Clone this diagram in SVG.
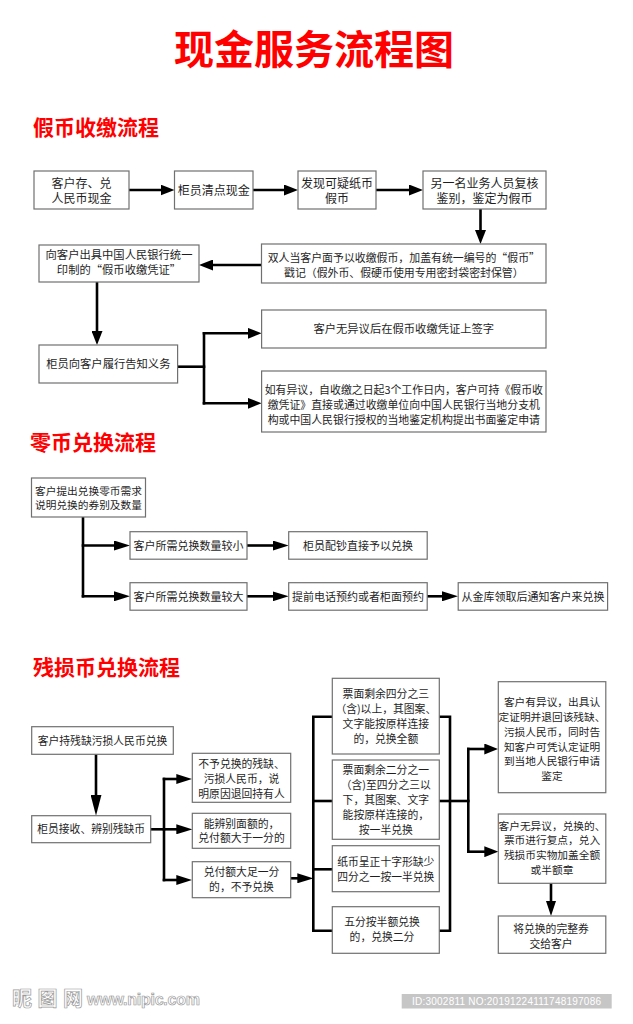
<svg xmlns="http://www.w3.org/2000/svg" width="633" height="1024" viewBox="0 0 633 1024">
<style>
.bx{fill:#fff;stroke:#707070;stroke-width:1.2}
.t{font-family:"Noto Sans CJK SC","Liberation Sans",sans-serif;fill:#1e1e1e;text-anchor:middle}
.s1{font-size:12px}.s2{font-size:11.3px}.s3{font-size:10.9px}.s4{font-size:10.8px}
.h{font-family:"Noto Sans CJK SC",sans-serif;font-weight:bold;fill:#ff0000}
.c{fill:none;stroke:#000;stroke-width:2.6;stroke-linecap:square}
</style>
<defs>
<marker id="m1" markerUnits="userSpaceOnUse" markerWidth="14" markerHeight="11" refX="1" refY="5.5" orient="auto"><path d="M0,0 L14,5.5 L0,11 z" fill="#000"/></marker>
<marker id="m2" markerUnits="userSpaceOnUse" markerWidth="16" markerHeight="10" refX="1" refY="5" orient="auto"><path d="M0,0 L16,5 L0,10 z" fill="#000"/></marker>
<marker id="m3" markerUnits="userSpaceOnUse" markerWidth="21" markerHeight="11" refX="1" refY="5.5" orient="auto"><path d="M0,0 L21,5.5 L0,11 z" fill="#000"/></marker>
<marker id="m4" markerUnits="userSpaceOnUse" markerWidth="15" markerHeight="10" refX="1" refY="5" orient="auto"><path d="M0,0 L15,5 L0,10 z" fill="#000"/></marker>
</defs>
<rect width="633" height="1024" fill="#fff"/>

<g id="titles">
<text class="h" x="314" y="64" font-size="40" text-anchor="middle">现金服务流程图</text>
<text class="h" x="33" y="135" font-size="21">假币收缴流程</text>
<text class="h" x="30" y="450" font-size="21">零币兑换流程</text>
<text class="h" x="33" y="675" font-size="21">残损币兑换流程</text>
</g>

<g id="connectors">
<!-- section 1 -->
<path class="c" d="M129,190 H161.5" marker-end="url(#m1)"/>
<path class="c" d="M253,190 H285" marker-end="url(#m1)"/>
<path class="c" d="M376,190 H410" marker-end="url(#m1)"/>
<path class="c" d="M480.5,209 V231" marker-end="url(#m1)"/>
<path class="c" d="M261.5,265 H212" marker-end="url(#m1)"/>
<path class="c" d="M97,282 V332" marker-end="url(#m1)"/>
<path class="c" d="M177.6,366.7 H204"/>
<path class="c" d="M204,333.3 V403.3"/>
<path class="c" d="M204,333.3 H248.6" marker-end="url(#m1)"/>
<path class="c" d="M204,403.3 H248.6" marker-end="url(#m1)"/>
<!-- section 2 -->
<path class="c" d="M83,517 V596.3"/>
<path class="c" d="M83,545.5 H115" marker-end="url(#m2)"/>
<path class="c" d="M83,596.3 H115" marker-end="url(#m2)"/>
<path class="c" d="M247,545.5 H273.7" marker-end="url(#m2)"/>
<path class="c" d="M247,596.3 H273.7" marker-end="url(#m2)"/>
<path class="c" d="M427.2,596.3 H443" marker-end="url(#m2)"/>
<!-- section 3 -->
<path class="c" d="M96,754.3 V795.7" marker-end="url(#m3)"/>
<path class="c" d="M150.7,829.3 H164"/>
<path class="c" d="M164,779 V880"/>
<path class="c" d="M164,779 H177.3" marker-end="url(#m2)"/>
<path class="c" d="M164,829.3 H177.3" marker-end="url(#m2)"/>
<path class="c" d="M164,880 H177.3" marker-end="url(#m2)"/>
<path class="c" d="M290.7,878.3 H298.3" marker-end="url(#m2)"/>
<path class="c" d="M332.3,716.7 H313.3 V930.7 H332.3"/>
<path class="c" d="M313.3,801 H332.3"/>
<path class="c" d="M313.3,869.3 H332.3"/>
<path class="c" d="M439.3,716.7 H450 V930.7 H439.3"/>
<path class="c" d="M439.3,801 H468.3"/>
<path class="c" d="M468.3,749 V851.7"/>
<path class="c" d="M468.3,749 H485.3" marker-end="url(#m1)"/>
<path class="c" d="M468.3,851.7 H485.3" marker-end="url(#m1)"/>
<path class="c" d="M551,883.3 V902" marker-end="url(#m4)"/>
</g>

<g id="n-a"><rect class="bx" x="34" y="171" width="95" height="38"/><text class="t s1" x="81.5" y="188">客户存、兑</text><text class="t s1" x="81.5" y="203">人民币现金</text></g>
<g id="n-b"><rect class="bx" x="174.5" y="171" width="78.5" height="38"/><text class="t s1" x="213.7" y="194.6">柜员清点现金</text></g>
<g id="n-c"><rect class="bx" x="298" y="171" width="78" height="38"/><text class="t s1" x="337" y="187.8">发现可疑纸币</text><text class="t s1" x="337" y="202.8">假币</text></g>
<g id="n-d"><rect class="bx" x="423" y="171" width="123" height="38"/><text class="t s1" x="484.5" y="187.8">另一名业务人员复核</text><text class="t s1" x="484.5" y="202.8">鉴别，鉴定为假币</text></g>
<g id="n-e"><rect class="bx" x="261.5" y="244" width="284.5" height="39"/><text class="t s3" x="403.8" y="261.5">双人当客户面予以收缴假币，加盖有统一编号的“假币”</text><text class="t s3" x="403.8" y="276.5">戳记（假外币、假硬币使用专用密封袋密封保管）</text></g>
<g id="n-f"><rect class="bx" x="39" y="245" width="160" height="37"/><text class="t s2" x="119" y="258.6">向客户出具中国人民银行统一</text><text class="t s2" x="119" y="273.6">印制的“假币收缴凭证”</text></g>
<g id="n-g"><rect class="bx" x="39" y="345" width="138.6" height="38"/><text class="t s2" x="108.3" y="368.4">柜员向客户履行告知义务</text></g>
<g id="n-h"><rect class="bx" x="261.6" y="310" width="284.4" height="38"/><text class="t s2" x="403.8" y="333.4">客户无异议后在假币收缴凭证上签字</text></g>
<g id="n-i"><rect class="bx" x="261.6" y="371" width="284.4" height="61"/><text class="t s3" x="403.8" y="394.2">如有异议，自收缴之日起3个工作日内，客户可持《假币收</text><text class="t s3" x="403.8" y="409.2">缴凭证》直接或通过收缴单位向中国人民银行当地分支机</text><text class="t s3" x="403.8" y="424.2">构或中国人民银行授权的当地鉴定机构提出书面鉴定申请</text></g>

<g id="n-j"><rect class="bx" x="31.5" y="478" width="114" height="39"/><text class="t" font-size="10.7" x="88.5" y="494.6">客户提出兑换零币需求</text><text class="t" font-size="10.7" x="88.5" y="508.6">说明兑换的券别及数量</text></g>
<g id="n-k"><rect class="bx" x="130" y="531.7" width="117" height="27.5"/><text class="t" font-size="11" x="188.5" y="549.6">客户所需兑换数量较小</text></g>
<g id="n-l"><rect class="bx" x="288.7" y="531.7" width="138.5" height="27.5"/><text class="t" font-size="11" x="358" y="549.6">柜员配钞直接予以兑换</text></g>
<g id="n-m"><rect class="bx" x="130" y="582.7" width="117" height="27.5"/><text class="t" font-size="11" x="188.5" y="600.5">客户所需兑换数量较大</text></g>
<g id="n-n"><rect class="bx" x="288.7" y="582.7" width="138.5" height="27.5"/><text class="t" font-size="11" x="358" y="600.5">提前电话预约或者柜面预约</text></g>
<g id="n-o"><rect class="bx" x="458.2" y="582.7" width="149.4" height="27.5"/><text class="t" font-size="11" x="533" y="600.5">从金库领取后通知客户来兑换</text></g>

<g id="n-p"><rect class="bx" x="31.7" y="726.7" width="141.6" height="27.6"/><text class="t s4" x="102.5" y="744.7">客户持残缺污损人民币兑换</text></g>
<g id="n-q"><rect class="bx" x="31.7" y="815.7" width="119" height="27"/><text class="t s4" x="91.2" y="833.4">柜员接收、辨别残缺币</text></g>
<g id="n-r"><rect class="bx" x="192.3" y="753.3" width="98.4" height="49"/><text class="t s4" x="241.5" y="767.5">不予兑换的残缺、</text><text class="t s4" x="241.5" y="782.5">污损人民币，说</text><text class="t s4" x="241.5" y="797.5">明原因退回持有人</text></g>
<g id="n-s"><rect class="bx" x="192.3" y="813.3" width="98.4" height="35"/><text class="t s4" x="241.5" y="827.7">能辨别面额的，</text><text class="t s4" x="241.5" y="842.2">兑付额大于一分的</text></g>
<g id="n-t"><rect class="bx" x="192.3" y="861.7" width="98.4" height="36"/><text class="t s4" x="241.5" y="876">兑付额大足一分</text><text class="t s4" x="241.5" y="891">的，不予兑换</text></g>
<g id="n-u"><rect class="bx" x="332.3" y="678.3" width="107" height="75.7"/><text class="t s4" x="385.8" y="698.2">票面剩余四分之三</text><text class="t s4" x="385.8" y="713">（含)以上，其图案、</text><text class="t s4" x="385.8" y="727.8">文字能按原样连接</text><text class="t s4" x="385.8" y="742.6">的，兑换全额</text></g>
<g id="n-v"><rect class="bx" x="332.3" y="760" width="107" height="79.3"/><text class="t s4" x="385.8" y="774.2">票面剩余二分之一</text><text class="t s4" x="385.8" y="789.2">（含)至四分之三以</text><text class="t s4" x="385.8" y="804.2">下，其图案、文字</text><text class="t s4" x="385.8" y="819.2">能按原样连接的，</text><text class="t s4" x="385.8" y="834.2">按一半兑换</text></g>
<g id="n-w"><rect class="bx" x="332.3" y="845.7" width="107" height="46"/><text class="t s4" x="385.8" y="865.9">纸币呈正十字形缺少</text><text class="t s4" x="385.8" y="880.9">四分之一按一半兑换</text></g>
<g id="n-x"><rect class="bx" x="332.3" y="906.7" width="107" height="46.6"/><text class="t s4" x="382" y="925.9">五分按半额兑换</text><text class="t s4" x="382" y="940.9">的，兑换二分</text></g>
<g id="n-y"><rect class="bx" x="498.3" y="681.7" width="107.5" height="111"/><text class="t" font-size="10.7" x="552" y="706.3">客户有异议，出具认</text><text class="t" font-size="10.7" x="552" y="721">定证明并退回该残缺、</text><text class="t" font-size="10.7" x="552" y="735.8">污损人民币，同时告</text><text class="t" font-size="10.7" x="552" y="750.6">知客户可凭认定证明</text><text class="t" font-size="10.7" x="552" y="765.4">到当地人民银行申请</text><text class="t" font-size="10.7" x="552" y="780.2">鉴定</text></g>
<g id="n-z"><rect class="bx" x="498.3" y="814" width="107.5" height="69.3"/><text class="t" font-size="10.7" x="552" y="829.7">客户无异议，兑换的、</text><text class="t" font-size="10.7" x="552" y="844.4">票币进行复点，兑入</text><text class="t" font-size="10.7" x="552" y="859.2">残损币实物加盖全额</text><text class="t" font-size="10.7" x="552" y="874">或半额章</text></g>
<g id="n-aa"><rect class="bx" x="498.3" y="916" width="107.5" height="37.3"/><text class="t s4" x="551" y="932.5">将兑换的完整券</text><text class="t s4" x="551" y="947.5">交给客户</text></g>

<g id="watermark">
<text x="12" y="1006" font-family="Noto Sans CJK SC,sans-serif" font-size="20" font-weight="bold" fill="#fff" stroke="#9a9a9a" stroke-width="0.7" textLength="71">昵图网</text>
<text x="87" y="1005" font-family="Liberation Sans,sans-serif" font-size="16" font-weight="bold" fill="#fff" stroke="#9a9a9a" stroke-width="0.7" textLength="113">www.nipic.com</text>
<rect x="401.7" y="994" width="210" height="14.5" fill="#c6c6c6"/>
<text x="506.5" y="1005" font-family="Liberation Sans,sans-serif" font-size="10" fill="#fff" text-anchor="middle" textLength="189">ID:3002811 NO:20191224111748197086</text>
</g>
</svg>
